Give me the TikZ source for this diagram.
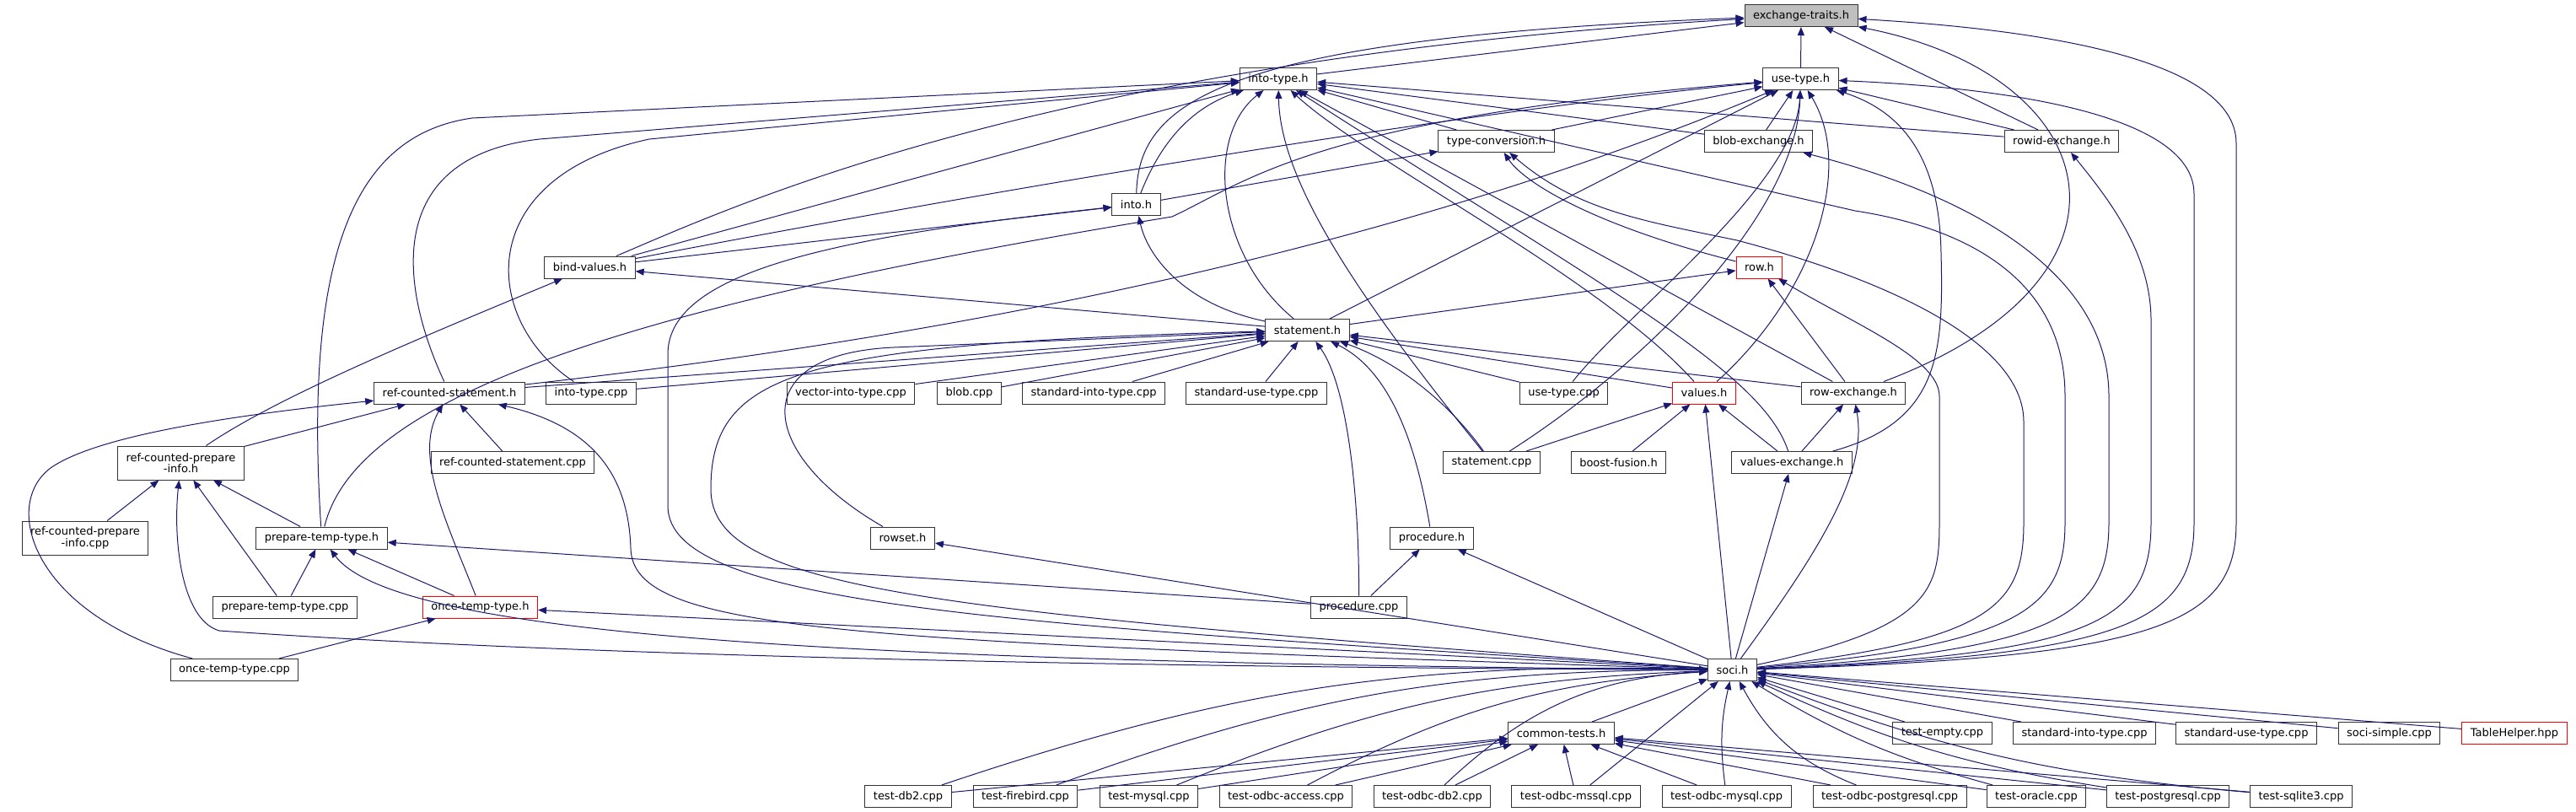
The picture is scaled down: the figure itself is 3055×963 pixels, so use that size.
\documentclass[tikz,border=0pt]{standalone}
\usepackage{fontspec}
\setmainfont{DejaVu Sans}
\usetikzlibrary{arrows.meta}
\definecolor{edgeblue}{HTML}{191970}
\definecolor{focusgrey}{HTML}{BFBFBF}

\begin{document}
\begin{tikzpicture}[x=0.75pt,y=-0.75pt,
	box/.style={draw=black!80,line width=0.75pt,fill=white,minimum height=19.5pt,inner xsep=7.5pt,inner ysep=0pt,font=\fontsize{9.75}{10}\selectfont},
	twoline/.style={box,align=center,minimum height=30pt},
	trunc/.style={box,draw=red},
	incl/.style={draw=edgeblue,line width=0.75pt,-{Triangle[length=7.5pt,width=6pt]}}]
	\useasboundingbox (0,0) rectangle (3055,963);

	\node (et) [box,fill=focusgrey] at (2136,18.5) {exchange-traits.h};
	\node (ith) [box] at (1516,93.5) {into-type.h};
	\node (uth) [box] at (2135.5,93.5) {use-type.h};
	\node (tch) [box] at (1774.5,167.5) {type-conversion.h};
	\node (beh) [box] at (2085.5,167.5) {blob-exchange.h};
	\node (reh) [box] at (2445,167.5) {rowid-exchange.h};
	\node (intoh) [box] at (1347.5,242.5) {into.h};
	\node (bvh) [box] at (699.5,317) {bind-values.h};
	\node (rowh) [trunc] at (2086.5,317) {row.h};
	\node (sth) [box] at (1550.5,391.5) {statement.h};
	\node (rcsh) [box] at (533,466) {ref-counted-statement.h};
	\node (itcpp) [box] at (701,466) {into-type.cpp};
	\node (vitcpp) [box] at (1009,466) {vector-into-type.cpp};
	\node (blobcpp) [box] at (1149.5,466) {blob.cpp};
	\node (sitcpp) [box] at (1297,466) {standard-into-type.cpp};
	\node (sutcpp) [box] at (1490,466) {standard-use-type.cpp};
	\node (utcpp) [box] at (1854.5,466) {use-type.cpp};
	\node (valh) [trunc] at (2021,466) {values.h};
	\node (rexh) [box] at (2198,466) {row-exchange.h};
	\node (rcpih) [twoline] at (214.5,549) {ref-counted-prepare\\-info.h};
	\node (rcscpp) [box] at (608,548.5) {ref-counted-statement.cpp};
	\node (stcpp) [box] at (1769,548.5) {statement.cpp};
	\node (bfh) [box] at (1919.5,548.5) {boost-fusion.h};
	\node (vexh) [box] at (2125,548.5) {values-exchange.h};
	\node (rcpicpp) [twoline] at (101,638) {ref-counted-prepare\\-info.cpp};
	\node (ptth) [box] at (381.5,638) {prepare-temp-type.h};
	\node (rowseth) [box] at (1070.5,638) {rowset.h};
	\node (proch) [box] at (1698,638) {procedure.h};
	\node (ptcpp) [box] at (338,720) {prepare-temp-type.cpp};
	\node (otth) [trunc] at (569.5,720) {once-temp-type.h};
	\node (proccpp) [box] at (1611.5,720) {procedure.cpp};
	\node (otcpp) [box] at (278,794.5) {once-temp-type.cpp};
	\node (socih) [box] at (2054.5,794.5) {soci.h};
	\node (cth) [box] at (1851.5,869.5) {common-tests.h};
	\node (tecpp) [box] at (2303.5,869.5) {test-empty.cpp};
	\node (sitcpp2) [box] at (2472,869.5) {standard-into-type.cpp};
	\node (sutcpp2) [box] at (2664,869.5) {standard-use-type.cpp};
	\node (sscpp) [box] at (2833.5,869.5) {soci-simple.cpp};
	\node (thhpp) [trunc] at (2982,869.5) {TableHelper.hpp};
	\node (tdb) [box] at (1077,944.5) {test-db2.cpp};
	\node (tfb) [box] at (1216,944.5) {test-firebird.cpp};
	\node (tmy) [box] at (1362.5,944.5) {test-mysql.cpp};
	\node (toac) [box] at (1525,944.5) {test-odbc-access.cpp};
	\node (todb) [box] at (1698.5,944.5) {test-odbc-db2.cpp};
	\node (toms) [box] at (1869,944.5) {test-odbc-mssql.cpp};
	\node (tomy) [box] at (2047.5,944.5) {test-odbc-mysql.cpp};
	\node (topg) [box] at (2241,944.5) {test-odbc-postgresql.cpp};
	\node (tora) [box] at (2415,944.5) {test-oracle.cpp};
	\node (tpg) [box] at (2571,944.5) {test-postgresql.cpp};
	\node (tsq) [box] at (2729,944.5) {test-sqlite3.cpp};

	\draw[incl] (ith) -- (et);
	\draw[incl] (uth) -- (et);
	\draw[incl] (reh) -- (et);
	\draw[incl] (bvh) .. controls (880,240) and (1250,70) .. (et);
	\draw[incl] (intoh) .. controls (1350,120) and (1450,45) .. (et);
	\draw[incl] (rexh) .. controls (2560,330) and (2500,90) .. (et);
	\draw[incl] (socih) .. controls (2560,780) and (2652,740) .. (2652,620) -- (2652,170) .. controls (2652,70) and (2420,35) .. (et);

	\draw[incl] (ptth) .. controls (360,300) and (420,160) .. (560,140) -- (ith);
	\draw[incl] (rcsh) .. controls (470,330) and (460,185) .. (640,165) -- (ith);
	\draw[incl] (itcpp) .. controls (570,380) and (560,210) .. (770,165) -- (ith);
	\draw[incl] (bvh) -- (ith);
	\draw[incl] (intoh) .. controls (1380,160) and (1420,125) .. (ith);
	\draw[incl] (sth) .. controls (1440,300) and (1430,160) .. (ith);
	\draw[incl] (stcpp) .. controls (1600,340) and (1518,210) .. (ith);
	\draw[incl] (valh) .. controls (1900,330) and (1620,190) .. (ith);
	\draw[incl] (rexh) -- (ith);
	\draw[incl] (vexh) .. controls (2090,440) and (1900,340) .. (ith);
	\draw[incl] (tch) -- (ith);
	\draw[incl] (beh) -- (ith);
	\draw[incl] (reh) -- (ith);
	\draw[incl] (socih) .. controls (2400,765) and (2449,720) .. (2449,620) -- (2449,470) .. controls (2449,330) and (2330,270) .. (2200,250) -- (ith);

	\draw[incl] (bvh) .. controls (1100,240) and (1700,135) .. (uth);
	\draw[incl] (ptth) .. controls (420,480) and (700,370) .. (1390,257) .. controls (1480,215) and (1560,140) .. (uth);
	\draw[incl] (rcsh) .. controls (1300,380) and (1760,250) .. (uth);
	\draw[incl] (sth) -- (uth);
	\draw[incl] (tch) -- (uth);
	\draw[incl] (beh) -- (uth);
	\draw[incl] (utcpp) .. controls (1930,370) and (2130,220) .. (uth);
	\draw[incl] (stcpp) .. controls (1940,440) and (2130,260) .. (uth);
	\draw[incl] (valh) .. controls (2150,350) and (2200,200) .. (uth);
	\draw[incl] (reh) -- (uth);
	\draw[incl] (vexh) .. controls (2300,500) and (2305,420) .. (2302,300) .. controls (2300,180) and (2250,130) .. (uth);
	\draw[incl] (socih) .. controls (2520,778) and (2602,740) .. (2602,620) -- (2602,230) .. controls (2602,140) and (2400,105) .. (uth);

	\draw[incl] (intoh) -- (tch);
	\draw[incl] (rowh) .. controls (1900,270) and (1810,220) .. (tch);
	\draw[incl] (socih) .. controls (2360,760) and (2400,720) .. (2400,620) -- (2400,500) .. controls (2400,410) and (2250,335) .. (2060,285) .. controls (1950,262) and (1870,250) .. (tch);
	\draw[incl] (socih) .. controls (2440,772) and (2501,730) .. (2501,620) -- (2501,470) .. controls (2501,330) and (2350,235) .. (beh);
	\draw[incl] (socih) .. controls (2480,776) and (2551,740) .. (2551,620) -- (2551,380) .. controls (2551,300) and (2500,235) .. (reh);

	\draw[incl] (bvh) -- (intoh);
	\draw[incl] (socih) .. controls (1200,740) and (792,720) .. (792,600) -- (792,420) .. controls (792,320) and (1000,280) .. (intoh);
	\draw[incl] (sth) .. controls (1400,360) and (1360,300) .. (intoh);
	\draw[incl] (sth) -- (bvh);
	\draw[incl] (rcpih) .. controls (330,470) and (500,400) .. (bvh);

	\draw[incl] (sth) -- (rowh);
	\draw[incl] (rexh) -- (rowh);
	\draw[incl] (socih) .. controls (2290,745) and (2300,700) .. (2300,620) -- (2300,470) .. controls (2300,425) and (2200,385) .. (rowh);

	\draw[incl] (rcsh) -- (sth);
	\draw[incl] (itcpp) -- (sth);
	\draw[incl] (vitcpp) -- (sth);
	\draw[incl] (blobcpp) -- (sth);
	\draw[incl] (sitcpp) -- (sth);
	\draw[incl] (sutcpp) -- (sth);
	\draw[incl] (utcpp) -- (sth);
	\draw[incl] (valh) -- (sth);
	\draw[incl] (rexh) -- (sth);
	\draw[incl] (stcpp) .. controls (1720,480) and (1660,430) .. (sth);
	\draw[incl] (proch) .. controls (1680,530) and (1650,440) .. (sth);
	\draw[incl] (proccpp) .. controls (1612,600) and (1600,460) .. (sth);
	\draw[incl] (rowseth) .. controls (900,540) and (880,420) .. (1060,412) -- (sth);
	\draw[incl] (socih) .. controls (1100,725) and (843,700) .. (843,580) .. controls (843,440) and (950,408) .. (sth);

	\draw[incl] (stcpp) -- (valh);
	\draw[incl] (bfh) -- (valh);
	\draw[incl] (socih) -- (valh);
	\draw[incl] (vexh) -- (valh);
	\draw[incl] (vexh) -- (rexh);
	\draw[incl] (socih) .. controls (2160,650) and (2215,560) .. (rexh);
	\draw[incl] (socih) -- (vexh);
	\draw[incl] (proccpp) -- (proch);
	\draw[incl] (socih) -- (proch);
	\draw[incl] (socih) -- (rowseth);

	\draw[incl] (rcpih) -- (rcsh);
	\draw[incl] (otth) .. controls (530,620) and (490,540) .. (rcsh);
	\draw[incl] (rcscpp) -- (rcsh);
	\draw[incl] (socih) .. controls (1000,760) and (750,750) .. (748,650) .. controls (745,560) and (700,505) .. (rcsh);
	\draw[incl] (otcpp) .. controls (40,730) and (0,600) .. (60,555) .. controls (110,520) and (250,495) .. (rcsh);
	\draw[incl] (socih) -- (otth);
	\draw[incl] (otcpp) -- (otth);
	\draw[incl] (ptcpp) -- (ptth);
	\draw[incl] (otth) -- (ptth);
	\draw[incl] (proccpp) -- (ptth);
	\draw[incl] (socih) .. controls (1000,785) and (470,755) .. (ptth);
	\draw[incl] (rcpicpp) -- (rcpih);
	\draw[incl] (ptcpp) -- (rcpih);
	\draw[incl] (ptth) -- (rcpih);
	\draw[incl] (socih) .. controls (1000,790) and (500,765) .. (260,748) .. controls (215,735) and (205,640) .. (rcpih);

	\draw[incl] (cth) -- (socih);
	\draw[incl] (tecpp) -- (socih);
	\draw[incl] (sitcpp2) -- (socih);
	\draw[incl] (sutcpp2) -- (socih);
	\draw[incl] (sscpp) -- (socih);
	\draw[incl] (thhpp) -- (socih);
	\draw[incl] (tdb) -- (cth);
	\draw[incl] (tdb) to[bend left=10] (socih);
	\draw[incl] (tfb) -- (cth);
	\draw[incl] (tfb) to[bend left=10] (socih);
	\draw[incl] (tmy) -- (cth);
	\draw[incl] (tmy) to[bend left=10] (socih);
	\draw[incl] (toac) -- (cth);
	\draw[incl] (toac) to[bend left=12] (socih);
	\draw[incl] (todb) -- (cth);
	\draw[incl] (todb) to[bend left=20] (socih);
	\draw[incl] (toms) -- (cth);
	\draw[incl] (toms) -- (socih);
	\draw[incl] (tomy) -- (cth);
	\draw[incl] (tomy) to[bend left=10] (socih);
	\draw[incl] (topg) -- (cth);
	\draw[incl] (topg) to[bend left=20] (socih);
	\draw[incl] (tora) -- (cth);
	\draw[incl] (tora) to[bend left=8] (socih);
	\draw[incl] (tpg) -- (cth);
	\draw[incl] (tpg) to[bend left=8] (socih);
	\draw[incl] (tsq) -- (cth);
	\draw[incl] (tsq) to[bend left=8] (socih);
\end{tikzpicture}
\end{document}
